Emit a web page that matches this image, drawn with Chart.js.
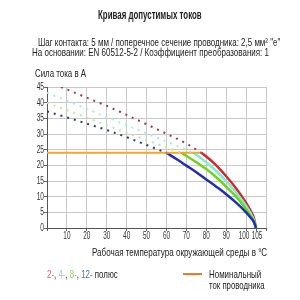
<!DOCTYPE html>
<html>
<head>
<meta charset="utf-8">
<script src="https://cdn.jsdelivr.net/npm/chart.js@4/dist/chart.umd.min.js"></script>
<style>
    body { margin: 0; background: #fff; font-family: 'Liberation Sans', Arial, sans-serif; color: #222; }
    #wrap { position: relative; width: 300px; height: 300px; overflow: hidden; }
    #chart { position: absolute; left: 0; top: 0; }
    .txt { position: absolute; white-space: nowrap; font-size: 11px; line-height: 12px; transform-origin: 0 0; }
</style>
</head>
<body>
<div id="wrap">
    <canvas id="chart" width="300" height="300"></canvas>
    <div class="txt" data-x="98" data-w="104" style="top:9px;font-weight:bold;font-size:12px;line-height:13px;">Кривая допустимых токов</div>
    <div class="txt" data-x="38" data-w="242" style="top:36px;">Шаг контакта: 5 мм / поперечное сечение проводника: 2,5 мм² "е"</div>
    <div class="txt" data-x="32" data-w="237" style="top:46px;">На основании: EN 60512-5-2 / Коэффициент преобразования: 1</div>
    <div class="txt" data-x="35" data-w="51" style="top:67px;">Сила тока в А</div>
    <div class="txt" data-x="92" data-w="175" style="top:246px;">Рабочая температура окружающей среды в °C</div>
    <div class="txt" data-x="47" data-w="71" style="top:268px;"><span style="color:#e0606e">2-</span>, <span style="color:#7fd8dc">4-</span>, <span style="color:#8fcf5a">8-</span>, <span style="color:#3f78b8">12-</span> полюс</div>
    <div style="position:absolute;left:183px;top:273px;width:19px;height:2px;background:#f07a22;"></div>
    <div class="txt" data-x="209" data-w="52" style="top:268px;">Номинальный</div>
    <div class="txt" data-x="209" data-w="56" style="top:279px;">ток проводника</div>
</div>
<script>
// x tick labels shown on the temperature axis
const xTickLabels = [10, 20, 30, 40, 50, 60, 70, 80, 90, 100, 105];
const yTickLabels = [0, 5, 10, 15, 20, 25, 30, 35, 40, 45];

// dotted extensions above the nominal current
const red2DotT = [7, 20, 30, 40, 50, 60, 70, 77.5];
const red2DotI = [45, 41.6, 39.0, 36.1, 33.1, 30.1, 27.0, 24];
const cyan4DotT = [0, 10, 20, 30, 40, 50, 60, 73.5];
const cyan4DotI = [43.2, 40.6, 38.0, 35.4, 32.8, 30.2, 27.6, 24];
const green8DotT = [0, 10, 20, 30, 40, 50, 60, 67.5];
const green8DotI = [40, 37.6, 35.2, 32.8, 30.4, 28.0, 25.7, 24];
const blue12DotT = [0, 10, 20, 30, 40, 50, 60];
const blue12DotI = [37.2, 35.3, 33.3, 31.3, 29.0, 26.5, 24];

// solid derating curves
const red2T = [77.5, 80, 85, 90, 95, 100, 102, 104, 105];
const red2I = [24, 22.8, 20, 16.5, 12.6, 8, 5.8, 3, 0];
const cyan4T = [73.5, 75, 80, 85, 90, 95, 100, 102, 104, 105];
const cyan4I = [24, 23.4, 21, 18.2, 15, 11.3, 7, 5, 2.4, 0];
const green8T = [67.5, 70, 75, 80, 85, 90, 95, 100, 102, 104, 105];
const green8I = [24, 23, 21, 18.8, 16.2, 13.2, 10, 6, 4.2, 2, 0];
const blue12T = [60, 65, 70, 75, 80, 85, 90, 95, 100, 102, 104, 105];
const blue12I = [24, 22, 19.9, 17.8, 15.5, 13.2, 10.8, 8.1, 5, 3.5, 1.8, 0];

// nominal conductor current
const nominalT = [0, 77.5];
const nominalI = [24, 24];

const RED = '#d8242a', CYAN = '#7eecd0', GREEN = '#6fd21e', BLUE = '#1f2fb0', ORANGE = '#f6a623';

// squeeze html texts to the narrow widths of the original
document.querySelectorAll('.txt').forEach(el => {
    const w = el.offsetWidth;
    el.style.left = el.dataset.x + 'px';
    el.style.transform = `scaleX(${el.dataset.w / w})`;
});

function pts(xs, ys) {
    return xs.map((x, i) => ({ x: x, y: ys[i] }));
}

function dotted(xs, ys, color) {
    return { data: pts(xs, ys), borderColor: color, borderWidth: 2, borderDash: [2, 5], showLine: true, pointRadius: 0, fill: false };
}

function solid(xs, ys, color) {
    return { data: pts(xs, ys), borderColor: color, borderWidth: 2.5, showLine: true, pointRadius: 0, fill: false, cubicInterpolationMode: 'monotone' };
}

// tick labels drawn condensed, at the scale's own tick positions
const narrowTicks = {
    id: 'narrowTicks',
    afterDraw(chart) {
        const ctx = chart.ctx, xs = chart.scales.x, ys = chart.scales.y;
        ctx.save();
        ctx.font = "11px 'Liberation Sans', Arial, sans-serif";
        ctx.fillStyle = '#333';
        ctx.textBaseline = 'middle';
        xTickLabels.forEach(v => {
            ctx.save();
            ctx.translate(xs.getPixelForValue(v) + (v === 100 ? -2 : v === 105 ? 1 : 0), ys.bottom + 8);
            ctx.scale(0.58, 1);
            ctx.textAlign = 'center';
            ctx.fillText(String(v), 0, 0);
            ctx.restore();
        });
        yTickLabels.forEach(v => {
            ctx.save();
            ctx.translate(xs.left - 3, ys.getPixelForValue(v));
            ctx.scale(0.6, 1);
            ctx.textAlign = 'right';
            ctx.fillText(String(v), 0, 0);
            ctx.restore();
        });
        ctx.restore();
    }
};

new Chart(document.getElementById('chart'), {
    type: 'scatter',
    data: {
        datasets: [
            dotted(red2DotT, red2DotI, '#9a3858'),
            dotted(cyan4DotT, cyan4DotI, '#a8eee0'),
            dotted(green8DotT, green8DotI, '#c0e89a'),
            dotted(blue12DotT, blue12DotI, '#2a3a8a'),
            { data: pts(nominalT, nominalI), borderColor: ORANGE, borderWidth: 2, showLine: true, pointRadius: 0 },
            solid(blue12T, blue12I, BLUE),
            solid(green8T, green8I, GREEN),
            solid(cyan4T, cyan4I, CYAN),
            solid(red2T, red2I, RED)
        ]
    },
    plugins: [narrowTicks],
    options: {
        responsive: false,
        animation: false,
        layout: { padding: { top: 87, right: 34, left: 0, bottom: 0 } },
        plugins: { legend: { display: false }, tooltip: { enabled: false } },
        scales: {
            x: {
                type: 'linear', min: 0, max: 110,
                afterBuildTicks: s => { s.ticks = [0].concat(xTickLabels, [110]).map(v => ({ value: v })); },
                afterFit: s => { s.height = 72; },
                ticks: { autoSkip: false, maxRotation: 0, color: 'rgba(0,0,0,0)', font: { size: 10 } },
                grid: {
                    color: c => (c.tick && (c.tick.value === 105 || c.tick.value === 0)) ? 'rgba(0,0,0,0)' : '#c9c9c9',
                    tickColor: '#666', tickLength: 3
                },
                border: { color: '#555', width: 1 }
            },
            y: {
                min: 0, max: 45,
                afterBuildTicks: s => { s.ticks = yTickLabels.map(v => ({ value: v })); },
                afterFit: s => { s.width = 47; },
                ticks: { color: 'rgba(0,0,0,0)', font: { size: 10 } },
                grid: {
                    color: c => (c.tick && c.tick.value === 0) ? 'rgba(0,0,0,0)' : '#c9c9c9',
                    tickColor: '#666', tickLength: 3
                },
                border: { color: '#555', width: 1 }
            }
        }
    }
});
</script>
</body>
</html>
